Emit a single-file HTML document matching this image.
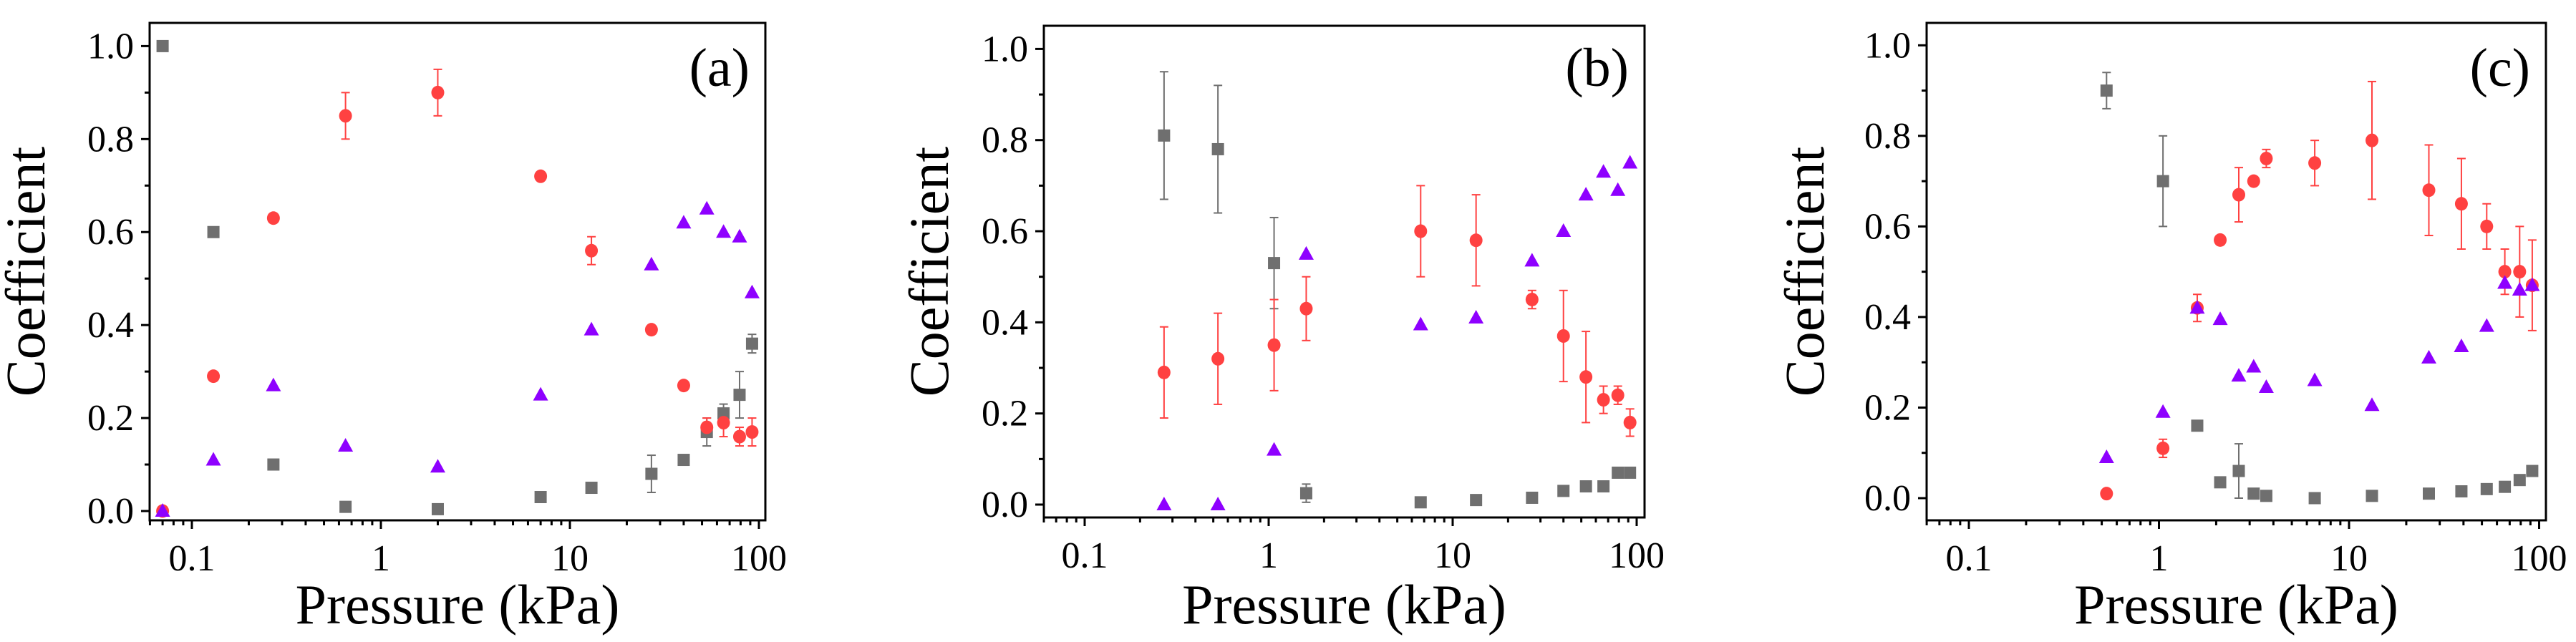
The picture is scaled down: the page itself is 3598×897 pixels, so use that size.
<!DOCTYPE html>
<html><head><meta charset="utf-8">
<style>
html,body{margin:0;padding:0;background:#fff;}
svg{display:block;}
svg text{font-family:"Liberation Serif","Noto Serif CJK SC","Times New Roman",serif !important;fill:#000;}
</style></head>
<body>
<svg id="fig" width="3598" height="897" viewBox="0 0 3598 897" xmlns="http://www.w3.org/2000/svg"></svg>
<script>
// ---- Panel (a) data ----
const aP = [0.07,0.13,0.27,0.65,2.0,7,13,27,40,53,65,79,92];
const aGray = [1.0,0.6,0.1,0.009,0.004,0.03,0.05,0.08,0.11,0.17,0.21,0.25,0.36];
const aGrayErr = [0,0,0,0,0,0,0,0.04,0,0.03,0.02,0.05,0.02];
const aRed = [0.0,0.29,0.63,0.85,0.9,0.72,0.56,0.39,0.27,0.18,0.19,0.16,0.17];
const aRedErr = [0,0,0,0.05,0.05,0,0.03,0,0,0.02,0.03,0.02,0.03];
const aPurple = [0.0,0.11,0.27,0.14,0.095,0.25,0.39,0.53,0.62,0.65,0.60,0.59,0.47];
// ---- Panel (b) data ----
const bP = [0.27,0.53,1.07,1.6,6.7,13.4,27,40,53,66,79,92];
const bGray = [0.81,0.78,0.53,0.025,0.005,0.01,0.015,0.03,0.04,0.04,0.07,0.07];
const bGrayErr = [0.14,0.14,0.10,0.02,0,0,0,0,0,0,0,0];
const bRed = [0.29,0.32,0.35,0.43,0.60,0.58,0.45,0.37,0.28,0.23,0.24,0.18];
const bRedErr = [0.1,0.1,0.1,0.07,0.1,0.1,0.02,0.1,0.1,0.03,0.02,0.03];
const bPurple = [0.0,0.0,0.12,0.55,0.395,0.41,0.535,0.60,0.68,0.73,0.69,0.75];
// ---- Panel (c) data ----
const cP = [0.53,1.05,1.59,2.1,2.63,3.15,3.67,6.6,13.2,26.3,39,53,66,79,92];
const cGray = [0.9,0.7,0.16,0.035,0.06,0.01,0.005,0.0,0.005,0.01,0.015,0.02,0.025,0.04,0.06];
const cGrayErr = [0.04,0.1,0,0,0.06,0,0,0,0,0,0,0,0,0,0];
const cRed = [0.01,0.11,0.42,0.57,0.67,0.70,0.75,0.74,0.79,0.68,0.65,0.60,0.50,0.50,0.47];
const cRedErr = [0,0.02,0.03,0,0.06,0,0.02,0.05,0.13,0.1,0.1,0.05,0.05,0.1,0.1];
const cPurple = [0.09,0.19,0.42,0.395,0.27,0.29,0.245,0.26,0.205,0.31,0.335,0.38,0.475,0.46,0.47];
// ---- tick labels ----
const yTicks = [0.0,0.2,0.4,0.6,0.8,1.0];
const yTickLabels = ["0.0","0.2","0.4","0.6","0.8","1.0"];
const xTicks = [0.1,1,10,100];
const xTickLabels = ["0.1","1","10","100"];

const NS="http://www.w3.org/2000/svg";
const FONT="'Liberation Serif', 'Noto Serif CJK SC', 'Times New Roman', serif";
const svg=document.getElementById('fig');
function mk(tag,attrs,parent){const e=document.createElementNS(NS,tag);for(const k in attrs)e.setAttribute(k,attrs[k]);if(tag==='text'){e.setAttribute('font-family',FONT);e.style.fontFamily=FONT;}(parent||svg).appendChild(e);return e;}

const GRAY="#6f6f6f",RED="#ff4141",PURPLE="#8e00ff";

function panel(cfg){
  const g=mk('g',{});
  
  
  const xs=v=>cfg.x1+(Math.log10(v)+1)*cfg.dec;
  const ys=v=>cfg.y0-v*(cfg.y0-cfg.y1);
  const fr=mk('rect',{x:cfg.L,y:cfg.T,width:cfg.R-cfg.L,height:cfg.B-cfg.T,fill:'none',stroke:'#000','stroke-width':3},g);
  
  
  for(let i=0;i<=10;i++){
    const v=i/10, y=ys(v); const major=i%2===0;
    mk('line',{x1:cfg.L-(major?12:7),x2:cfg.L,y1:y,y2:y,stroke:'#000','stroke-width':3},g);
  }
  yTicks.forEach((v,i)=>{
    const t=mk('text',{x:cfg.L-22,y:ys(v)+17,'text-anchor':'end','font-size':52},g);
    t.textContent=yTickLabels[i];
    
    
  });
  for(let d=-2;d<=2;d++){
    for(let m=1;m<=9;m++){
      const v=m*Math.pow(10,d); const x=xs(v);
      if(x<cfg.L-0.5||x>cfg.R+0.5) continue;
      mk('line',{x1:x,x2:x,y1:cfg.B,y2:cfg.B+(m===1?12:7),stroke:'#000','stroke-width':3},g);
    }
  }
  xTicks.forEach((v,i)=>{
    const t=mk('text',{x:xs(v),y:cfg.B+70,'text-anchor':'middle','font-size':52},g);
    t.textContent=xTickLabels[i];
    
    
  });
  const yt=mk('text',{x:0,y:0,'text-anchor':'middle','font-size':78,transform:`translate(${cfg.ytx},${(cfg.T+cfg.B)/2}) rotate(-90)`},g);
  yt.textContent="Coefficient";
  
  
  const xt=mk('text',{x:(cfg.L+cfg.R)/2,y:871,'text-anchor':'middle','font-size':78},g);
  xt.textContent="Pressure (kPa)";
  
  
  const pl=mk('text',{x:cfg.R-22,y:120,'text-anchor':'end','font-size':76},g);
  pl.textContent="("+cfg.id+")";
  
  
  function err(P,V,E,col){
    P.forEach((p,i)=>{ if(!E[i]) return;
      const x=xs(p),y1=ys(V[i]+E[i]),y2=ys(V[i]-E[i]);
      mk('line',{x1:x,x2:x,y1:y1,y2:y2,stroke:col,'stroke-width':2},g);
      mk('line',{x1:x-6,x2:x+6,y1:y1,y2:y1,stroke:col,'stroke-width':2},g);
      mk('line',{x1:x-6,x2:x+6,y1:y2,y2:y2,stroke:col,'stroke-width':2},g);
    });
  }
  err(cfg.P,cfg.gray,cfg.grayErr,GRAY);
  err(cfg.P,cfg.red,cfg.redErr,RED);
  cfg.P.forEach((p,i)=>{
    const s=mk('rect',{x:xs(p)-8.5,y:ys(cfg.gray[i])-8.5,width:17,height:17,fill:GRAY},g);
    
    
  });
  cfg.P.forEach((p,i)=>{
    const c=mk('ellipse',{cx:xs(p),cy:ys(cfg.red[i]),rx:9,ry:9.5,fill:RED},g);
    
    
  });
  cfg.P.forEach((p,i)=>{
    const x=xs(p),y=ys(cfg.purple[i]);
    const t=mk('polygon',{points:`${x},${y-11} ${x+10.5},${y+8} ${x-10.5},${y+8}`,fill:PURPLE},g);
    
    
  });
}

panel({id:'a',L:209,R:1069,T:32,B:727,x1:268,dec:264,y0:714,y1:64.4,ytx:62,
  P:aP,gray:aGray,grayErr:aGrayErr,red:aRed,redErr:aRedErr,purple:aPurple});
panel({id:'b',L:1458,R:2297,T:36,B:723,x1:1515,dec:257,y0:705,y1:68.4,ytx:1324,
  P:bP,gray:bGray,grayErr:bGrayErr,red:bRed,redErr:bRedErr,purple:bPurple});
panel({id:'c',L:2691,R:3556,T:32,B:727,x1:2750,dec:265.5,y0:696,y1:63.3,ytx:2547,
  P:cP,gray:cGray,grayErr:cGrayErr,red:cRed,redErr:cRedErr,purple:cPurple});
</script>
</body></html>
